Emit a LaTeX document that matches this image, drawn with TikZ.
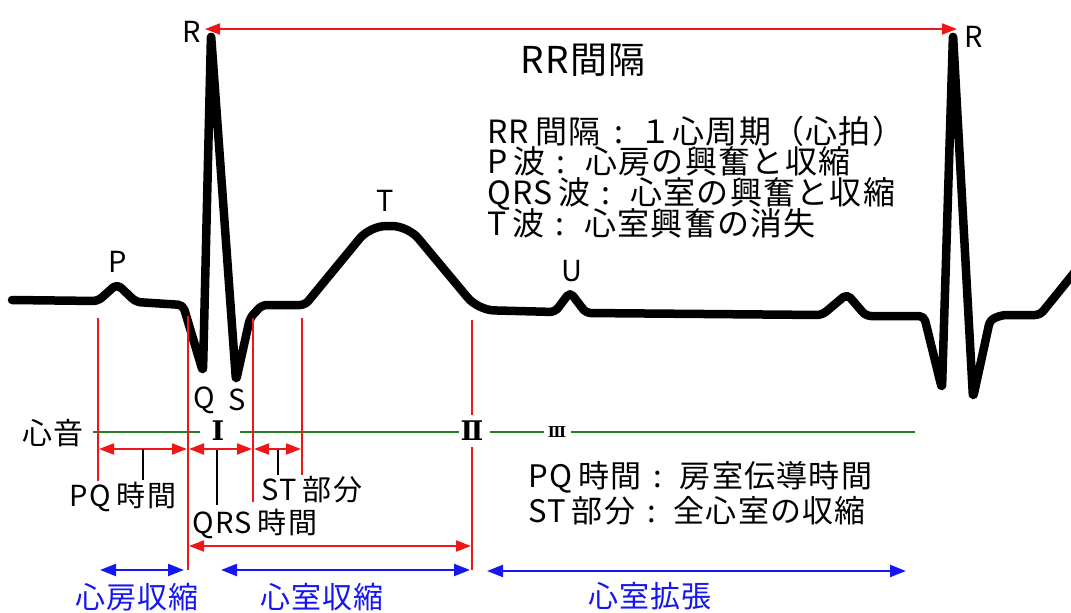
\documentclass[tikz,border=0pt]{standalone}
\usepackage{fontspec}
\setmainfont[LetterSpace=4]{Noto Sans CJK JP}
\newfontfamily\romanfont{DejaVu Serif}
\usetikzlibrary{arrows.meta}
\definecolor{ecgred}{RGB}{238,22,22}
\definecolor{ecgblue}{RGB}{22,22,238}
\definecolor{ecggreen}{RGB}{34,128,34}
\newcommand{\csep}{\hspace{11pt}:\hspace{20pt}}
\newcommand{\lsep}{\hspace{6pt}}
\tikzset{
  ecg/.style={line width=8.5pt, line join=round, line cap=round},
  redline/.style={draw=ecgred, line width=2pt},
  redarr/.style={draw=ecgred, line width=2pt, {Triangle[length=15pt,width=11pt]}-{Triangle[length=15pt,width=11pt]}},
  bluearr/.style={draw=ecgblue, line width=2.2pt, {Triangle[length=16pt,width=12pt]}-{Triangle[length=16pt,width=12pt]}},
  greenline/.style={draw=ecggreen, line width=2.5pt},
  ticker/.style={draw=black, line width=2pt},
  lbl/.style={inner sep=0pt, font=\fontsize{29}{32}\selectfont},
  info/.style={inner sep=0pt, anchor=base west, font=\fontsize{32}{34}\selectfont},
  note/.style={inner sep=0pt, anchor=base west, font=\fontsize{31}{34}\selectfont},
  bluelbl/.style={inner sep=0pt, text=ecgblue, font=\fontsize{30}{32}\selectfont},
  roman/.style={inner sep=0pt, font=\romanfont\bfseries\fontsize{27}{30}\selectfont}
}
\begin{document}
\begin{tikzpicture}[x=1pt,y=-1pt]
\useasboundingbox (0,0) rectangle (1071,613);

% ECG trace
\draw[ecg, rounded corners=5pt] (12,300) -- (98,301) -- (117,284) -- (136,302) -- (183,305)
  -- (203,372) -- (211,34) -- (236,381) -- (250,318) -- (262,305) -- (305,305)
  [rounded corners=16pt] -- (370,226) -- (408,226) -- (478,310)
  [rounded corners=5pt] -- (555,312) -- (570,292) -- (586,313) -- (822,315)
  -- (847,294) -- (866,316) -- (924,316) -- (942,389) -- (953,34) -- (973,398)
  -- (990,320) -- (1002,315) -- (1040,315) -- (1078,268);

% labels on the trace
\node[lbl] (R1) at (192,32) {R};
\node[lbl] (R2) at (974,37) {R};
\node[lbl] (P) at (118,262) {P};
\node[lbl] (T) at (385,201) {T};
\node[lbl] (U) at (572,271) {U};
\node[lbl] (Q) at (204,400) {Q};
\node[lbl] (S) at (237,400) {S};

% RR interval
\coordinate (rrL) at (205,29);
\coordinate (rrR) at (957,29);
\draw[redarr, line width=1.8pt] (rrL) -- (rrR);
\node[inner sep=0pt, font=\fontsize{37}{40}\selectfont] (RRlab) at (583,60) {RR間隔};

% info block
\node[info] (i1) at (487,143) {RR\lsep 間隔\hspace{14pt}:\hspace{16pt}１心周期（心拍）};
\node[info] (i2) at (487,173) {P\lsep 波\csep 心房の興奮と収縮};
\node[info] (i3) at (487,204) {QRS\lsep 波\csep 心室の興奮と収縮};
\node[info] (i4) at (487,235) {T\lsep 波\csep 心室興奮の消失};

% heart sounds
\node[inner sep=0pt, font=\fontsize{30}{32}\selectfont] (heart) at (53,433) {心音};
\node[roman] (s1) at (218,431) {Ⅰ};
\node[roman] (s2) at (472,431) {Ⅱ};
\node[roman, font=\romanfont\bfseries\fontsize{15}{17}\selectfont] (s3) at (557,432) {Ⅲ};
\coordinate (g0) at (93,432);  \coordinate (g1) at (200,432);
\coordinate (g2) at (240,432); \coordinate (g3) at (459,432);
\coordinate (g4) at (490,432); \coordinate (g5) at (544,432);
\coordinate (g6) at (571,432); \coordinate (g7) at (915,432);
\draw[greenline] (g0) -- (g1);
\draw[greenline] (g2) -- (g3);
\draw[greenline] (g4) -- (g5);
\draw[greenline] (g6) -- (g7);

% red verticals
\coordinate (v1t) at (98,318);  \coordinate (v1b) at (98,481);
\coordinate (v2t) at (188,316); \coordinate (v2b) at (188,570);
\coordinate (v3t) at (253,318); \coordinate (v3b) at (253,502);
\coordinate (v4t) at (302,318); \coordinate (v4b) at (302,475);
\coordinate (v5t) at (472,320); \coordinate (v5a) at (472,415);
\coordinate (v5c) at (472,447); \coordinate (v5b) at (472,570);
\draw[redline] (v1t) -- (v1b);
\draw[redline] (v2t) -- (v2b);
\draw[redline] (v3t) -- (v3b);
\draw[redline] (v4t) -- (v4b);
\draw[redline] (v5t) -- (v5a);
\draw[redline] (v5c) -- (v5b);

% red interval arrows
\coordinate (pqL) at (99,449);  \coordinate (pqR) at (187,449);
\coordinate (qrsL) at (189,449); \coordinate (qrsR) at (252,449);
\coordinate (stL) at (254,449); \coordinate (stR) at (301,449);
\coordinate (bigL) at (189,546); \coordinate (bigR) at (471,546);
\draw[redarr] (pqL) -- (pqR);
\draw[redarr] (qrsL) -- (qrsR);
\draw[redarr] (stL) -- (stR);
\draw[redarr] (bigL) -- (bigR);

% ticks and their labels
\coordinate (t1a) at (143,449); \coordinate (t1b) at (143,480);
\coordinate (t2a) at (217,450); \coordinate (t2b) at (217,505);
\coordinate (t3a) at (278,450); \coordinate (t3b) at (278,475);
\draw[ticker] (t1a) -- (t1b);
\draw[ticker] (t2a) -- (t2b);
\draw[ticker] (t3a) -- (t3b);
\node[lbl] (pqlab) at (123,497) {PQ\lsep 時間};
\node[lbl] (stlab) at (312,490) {ST\lsep 部分};
\node[lbl] (qrslab) at (255,524) {QRS\lsep 時間};

% bottom right notes
\node[note] (n1) at (528,487) {PQ\lsep 時間\hspace{12pt}:\hspace{18pt}房室伝導時間};
\node[note] (n2) at (528,522) {ST\lsep 部分\hspace{12pt}:\hspace{18pt}全心室の収縮};

% blue phases
\coordinate (b1L) at (100,570); \coordinate (b1R) at (184,570);
\coordinate (b2L) at (221,570); \coordinate (b2R) at (470,570);
\coordinate (b3L) at (487,571); \coordinate (b3R) at (906,571);
\draw[bluearr] (b1L) -- (b1R);
\draw[bluearr] (b2L) -- (b2R);
\draw[bluearr] (b3L) -- (b3R);
\node[bluelbl] (atr) at (137,597) {心房収縮};
\node[bluelbl] (vsys) at (322,597) {心室収縮};
\node[bluelbl] (vdia) at (650,596) {心室拡張};
\end{tikzpicture}
\end{document}
